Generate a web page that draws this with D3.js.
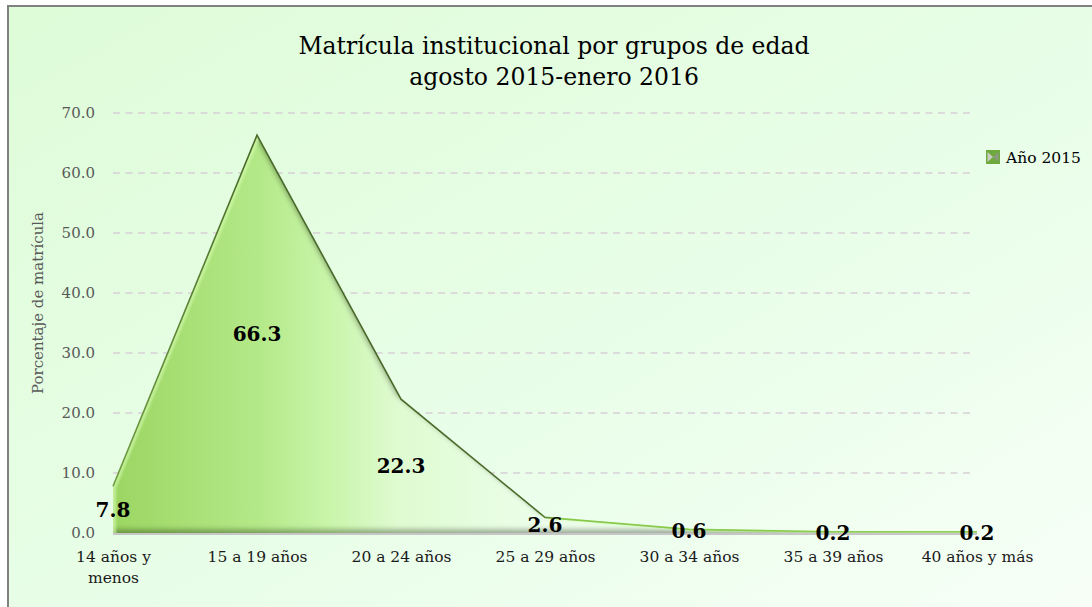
<!DOCTYPE html>
<html>
<head>
<meta charset="utf-8">
<script src="https://cdnjs.cloudflare.com/ajax/libs/d3/7.8.5/d3.min.js"></script>
<style>
  body { margin: 0; background: #ffffff; }
  svg { display: block; font-family: "DejaVu Serif", "Liberation Serif", serif; }
</style>
</head>
<body>
<div id="chart"></div>
<script>
// chart values
const titleLines = ["Matrícula institucional por grupos de edad", "agosto 2015-enero 2016"];
const categories = ["14 años y menos", "15 a 19 años", "20 a 24 años", "25 a 29 años", "30 a 34 años", "35 a 39 años", "40 años y más"];
const values = [7.8, 66.3, 22.3, 2.6, 0.6, 0.2, 0.2];
const yTicks = [0, 10, 20, 30, 40, 50, 60, 70];
const seriesName = "Año 2015";
const yTitle = "Porcentaje de matrícula";

const width = 1092, height = 607;
const plot = { left: 113, right: 977, top: 113, bottom: 533 };

const svg = d3.select("#chart").append("svg")
    .attr("width", width)
    .attr("height", height);

const defs = svg.append("defs");

// background gradient: greener top-left, whiter bottom-right
const bg = defs.append("linearGradient").attr("id", "bg")
    .attr("x1", "0").attr("y1", "0").attr("x2", "1").attr("y2", "1");
bg.append("stop").attr("offset", "0%").attr("stop-color", "#defcd8");
bg.append("stop").attr("offset", "60%").attr("stop-color", "#eafeea");
bg.append("stop").attr("offset", "100%").attr("stop-color", "#f8fff8");

// area fill, horizontal
const fill = defs.append("linearGradient").attr("id", "areaFill")
    .attr("gradientUnits", "userSpaceOnUse")
    .attr("x1", plot.left).attr("x2", plot.right).attr("y1", 0).attr("y2", 0);
[["0%", "#9cd662"], ["17%", "#b4e989"], ["25%", "#c9f5aa"], ["33%", "#dffbd1"], ["50%", "#ecfeea"], ["100%", "#f1fff1"]]
    .forEach(s => fill.append("stop").attr("offset", s[0]).attr("stop-color", s[1]));

// top outline colour
const edge = defs.append("linearGradient").attr("id", "edge")
    .attr("gradientUnits", "userSpaceOnUse")
    .attr("x1", plot.left).attr("x2", plot.right).attr("y1", 0).attr("y2", 0);
[["0%", "#6f9d42"], ["16%", "#4a6a2a"], ["49%", "#4a6a2a"], ["52%", "#86c84a"], ["100%", "#8fd152"]]
    .forEach(s => edge.append("stop").attr("offset", s[0]).attr("stop-color", s[1]));

// bevel look: dark inner shadow bottom-right, light top-left
const bevel = defs.append("filter").attr("id", "bevel")
    .attr("filterUnits", "userSpaceOnUse")
    .attr("x", 90).attr("y", 100).attr("width", 920).attr("height", 460);
bevel.append("feGaussianBlur").attr("in", "SourceAlpha").attr("stdDeviation", 2.5).attr("result", "b");
bevel.append("feOffset").attr("in", "b").attr("dx", -5).attr("dy", -4).attr("result", "o1");
bevel.append("feComposite").attr("in", "SourceAlpha").attr("in2", "o1").attr("operator", "out").attr("result", "sh");
bevel.append("feFlood").attr("flood-color", "#2a4410").attr("flood-opacity", 0.6).attr("result", "c1");
bevel.append("feComposite").attr("in", "c1").attr("in2", "sh").attr("operator", "in").attr("result", "shadow");
bevel.append("feGaussianBlur").attr("in", "SourceAlpha").attr("stdDeviation", 1.2).attr("result", "b2");
bevel.append("feOffset").attr("in", "b2").attr("dx", 2.5).attr("dy", 1.5).attr("result", "o2");
bevel.append("feComposite").attr("in", "SourceAlpha").attr("in2", "o2").attr("operator", "out").attr("result", "hl");
bevel.append("feFlood").attr("flood-color", "#d8ffb0").attr("flood-opacity", 0.55).attr("result", "c2");
bevel.append("feComposite").attr("in", "c2").attr("in2", "hl").attr("operator", "in").attr("result", "light");
const merge = bevel.append("feMerge");
merge.append("feMergeNode").attr("in", "SourceGraphic");
merge.append("feMergeNode").attr("in", "shadow");
merge.append("feMergeNode").attr("in", "light");

// chart background + border (cropped at right/bottom like the original)
svg.append("rect")
    .attr("x", 8).attr("y", 6)
    .attr("width", width + 20).attr("height", height + 20)
    .attr("fill", "url(#bg)")
    .attr("stroke", "#808080")
    .attr("stroke-width", 2);

// scales
const x = d3.scalePoint().domain(categories).range([plot.left, plot.right]);
const y = d3.scaleLinear().domain([0, 70]).range([plot.bottom, plot.top]);

// gridlines
svg.append("g").selectAll("line")
    .data(yTicks.filter(t => t > 0))
    .join("line")
    .attr("x1", plot.left).attr("x2", plot.right - 2)
    .attr("y1", d => y(d)).attr("y2", d => y(d))
    .attr("stroke", "#d8d0d6")
    .attr("stroke-width", 1.5)
    .attr("stroke-dasharray", "7,5.5");

// floor line
svg.append("line")
    .attr("x1", plot.left).attr("x2", plot.right)
    .attr("y1", y(0) + 1).attr("y2", y(0) + 1)
    .attr("stroke", "#c6c6c6").attr("stroke-width", 2);

const data = categories.map((c, i) => ({ cat: c, v: values[i] }));

const area = d3.area()
    .x(d => x(d.cat))
    .y0(y(0))
    .y1(d => y(d.v));

const line = d3.line()
    .x(d => x(d.cat))
    .y(d => y(d.v));

svg.append("path")
    .datum(data)
    .attr("d", area)
    .attr("fill", "url(#areaFill)")
    .attr("filter", "url(#bevel)");

svg.append("path")
    .datum(data)
    .attr("d", line)
    .attr("fill", "none")
    .attr("stroke", "url(#edge)")
    .attr("stroke-width", 1.6);

// y axis
const yAxis = svg.append("g")
    .attr("transform", `translate(${plot.left},0)`)
    .call(d3.axisLeft(y).tickValues(yTicks).tickFormat(d3.format(".1f")).tickSize(0).tickPadding(18));
yAxis.select(".domain").remove();
yAxis.selectAll("text")
    .attr("font-family", "DejaVu Serif")
    .attr("font-size", "15px")
    .attr("fill", "#595959");

// x axis
const xAxis = svg.append("g")
    .attr("transform", `translate(0,${plot.bottom})`)
    .call(d3.axisBottom(x).tickSize(0).tickPadding(18));
xAxis.select(".domain").remove();
xAxis.selectAll("text")
    .attr("font-family", "DejaVu Serif")
    .attr("font-size", "15.5px")
    .attr("fill", "#1a1a1a")
    .call(wrap, 125);

function wrap(texts, maxW) {
    texts.each(function () {
        const t = d3.select(this);
        const words = t.text().split(" ");
        const yy = t.attr("y"), dy = t.attr("dy");
        t.text(null);
        let ln = [], lineNo = 0;
        let tspan = t.append("tspan").attr("x", 0).attr("y", yy).attr("dy", dy);
        words.forEach(w => {
            ln.push(w);
            tspan.text(ln.join(" "));
            if (tspan.node().getComputedTextLength() > maxW && ln.length > 1) {
                ln.pop();
                tspan.text(ln.join(" "));
                ln = [w];
                lineNo++;
                tspan = t.append("tspan").attr("x", 0).attr("y", yy)
                    .attr("dy", (0.71 + lineNo * 1.38) + "em").text(w);
            }
        });
    });
}

// data labels
svg.append("g").selectAll("text")
    .data(data)
    .join("text")
    .attr("x", d => x(d.cat))
    .attr("y", d => y(d.v / 2))
    .attr("dy", "0.36em")
    .attr("text-anchor", "middle")
    .attr("font-family", "DejaVu Serif")
    .attr("font-weight", "bold")
    .attr("font-size", "20px")
    .attr("fill", "#000")
    .text(d => d.v.toFixed(1));

// y axis title
svg.append("text")
    .attr("transform", `translate(38,${(plot.top + plot.bottom) / 2 - 20}) rotate(-90)`)
    .attr("dy", "0.35em")
    .attr("text-anchor", "middle")
    .attr("font-size", "15px")
    .attr("fill", "#595959")
    .text(yTitle);

// title
svg.append("g").selectAll("text")
    .data(titleLines)
    .join("text")
    .attr("x", 554)
    .attr("y", (d, i) => 54 + i * 31)
    .attr("text-anchor", "middle")
    .attr("font-size", "23.5px")
    .attr("fill", "#000")
    .text(d => d);

// legend
const lg = svg.append("g").attr("transform", "translate(986,150)");
lg.append("rect").attr("width", 14).attr("height", 14).attr("fill", "#6fa83c");
lg.append("path").attr("d", "M1.5,2 L7,7 L1.5,12 Z").attr("fill", "#c9cfc2");
lg.append("path").attr("d", "M12.5,2 L7,7 L12.5,12 Z").attr("fill", "#8a9a80");
lg.append("text")
    .attr("x", 20).attr("y", 7).attr("dy", "0.36em")
    .attr("font-size", "15.5px")
    .attr("fill", "#000")
    .text(seriesName);
</script>
</body>
</html>
